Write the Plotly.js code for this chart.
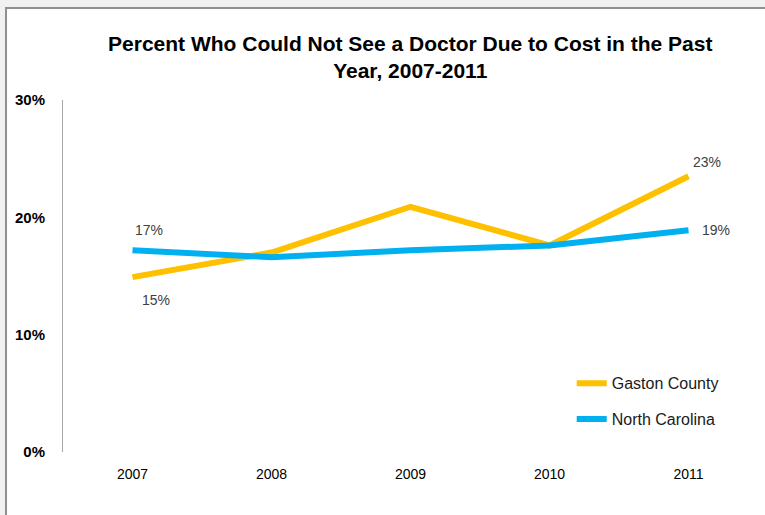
<!DOCTYPE html>
<html>
<head>
<meta charset="utf-8">
<script src="https://cdn.plot.ly/plotly-3.0.1.min.js"></script>
<style>
html,body{margin:0;padding:0;background:#f1f1f1;width:765px;height:515px;overflow:hidden;}
#wrap{position:absolute;left:5px;top:7px;width:760px;height:508px;border-left:2px solid #8f8f8f;border-top:2px solid #8f8f8f;background:#fff;}
#chart{width:758px;height:506px;}
</style>
</head>
<body>
<div id="wrap"><div id="chart"></div></div>
<script>
const years = ['2007','2008','2009','2010','2011'];
const gaston = [14.9, 17.0, 20.9, 17.6, 23.5];
const northCarolina = [17.2, 16.6, 17.2, 17.6, 18.9];
const gastonLabels = ['15%', '', '', '', '23%'];
const ncLabels = ['17%', '', '', '', '19%'];
const yTicks = [0, 10, 20, 30];
const yTickText = ['0%', '10%', '20%', '30%'];

// label offsets (pixels) per point: style only
const gastonShift = [[23, -23], null, null, null, [18, 14]];
const ncShift = [[16, 20], null, null, null, [27, 0]];

const labelFont = {family: 'Liberation Sans, Arial, sans-serif', size: 14, color: '#404040'};

const traces = [
  {
    x: years, y: gaston, name: 'Gaston County', type: 'scatter', mode: 'lines',
    line: {color: '#FFC000', width: 6}, legendgroup: 'g', hoverinfo: 'skip'
  },
  {
    x: years, y: northCarolina, name: 'North Carolina', type: 'scatter', mode: 'lines',
    line: {color: '#00B0F0', width: 6}, legendgroup: 'n', hoverinfo: 'skip'
  }
];

const annotations = [];
function addLabels(vals, labels, shifts) {
  vals.forEach((v, i) => {
    if (!labels[i]) return;
    annotations.push({
      x: i, y: v, xref: 'x', yref: 'y', text: labels[i], showarrow: false,
      xshift: shifts[i][0], yshift: shifts[i][1], font: labelFont,
      xanchor: 'center', yanchor: 'middle'
    });
  });
}
addLabels(gaston, gastonLabels, gastonShift);
addLabels(northCarolina, ncLabels, ncShift);

const layout = {
  width: 758, height: 506,
  margin: {l: 56, r: 7, t: 91, b: 63, autoexpand: false},
  paper_bgcolor: '#ffffff', plot_bgcolor: '#ffffff',
  font: {family: 'Liberation Sans, Arial, sans-serif', color: '#000'},
  title: {
    text: 'Percent Who Could Not See a Doctor Due to Cost in the Past<br>Year, 2007-2011',
    font: {size: 21, color: '#000', family: 'Liberation Sans, Arial, sans-serif', weight: 'bold'},
    x: 0.532, xanchor: 'center', y: 0.917, yanchor: 'top', yref: 'container'
  },
  xaxis: {
    type: 'category', range: [-0.5, 4.5], showgrid: false, zeroline: false, showline: false,
    ticks: '', ticklabelstandoff: 12, tickfont: {size: 14, color: '#000'}, fixedrange: true
  },
  yaxis: {
    range: [0, 30], tickvals: yTicks, ticktext: yTickText, showgrid: false, zeroline: false,
    showline: true, linecolor: '#a6a6a6', linewidth: 1, ticks: '', ticklabelstandoff: 14,
    tickfont: {size: 15, color: '#000', weight: 'bold'}, fixedrange: true
  },
  legend: {
    xref: 'container', yref: 'container', x: 0.745, y: 0.294, xanchor: 'left', yanchor: 'top',
    font: {size: 16, color: '#1a1a1a'}, tracegroupgap: 12, bgcolor: 'rgba(0,0,0,0)'
  },
  annotations: annotations,
  showlegend: true
};

Plotly.newPlot('chart', traces, layout, {displayModeBar: false, staticPlot: true});
</script>
</body>
</html>
